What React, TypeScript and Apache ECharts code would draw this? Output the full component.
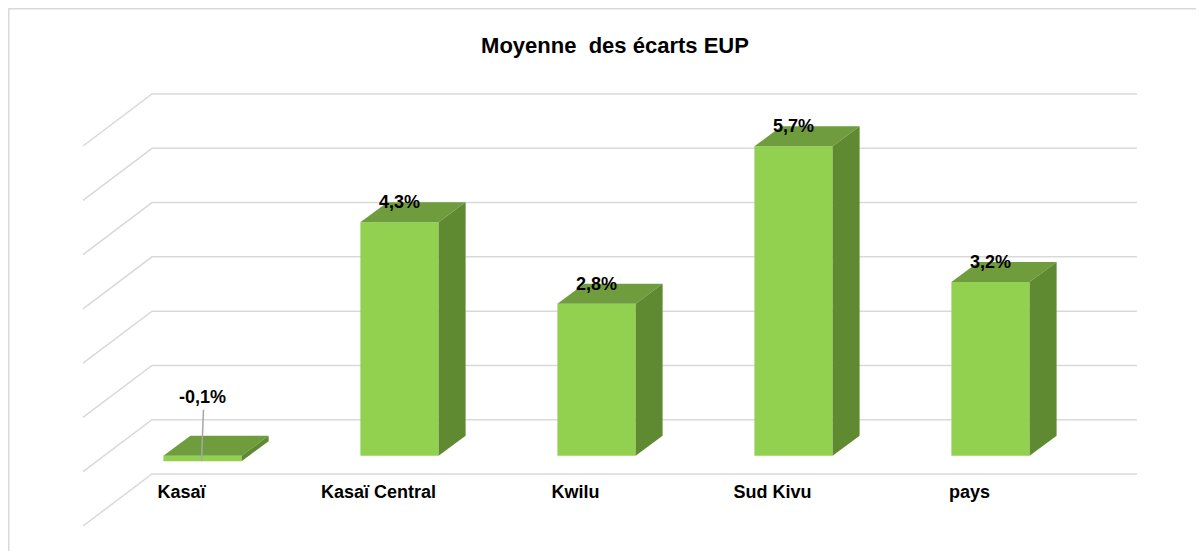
import React, { useEffect, useRef } from "react";
import * as echarts from "echarts";

const categories = ["Kasaï", "Kasaï Central", "Kwilu", "Sud Kivu", "pays"];
const values = [-0.1, 4.3, 2.8, 5.7, 3.2];
const yTicks = [-1, 0, 1, 2, 3, 4, 5, 6];
const titleText = "Moyenne  des écarts EUP";

const FONT = '"Liberation Sans", Arial, sans-serif';
const FRONT = "#92d050";
const TOP = "#6f9d3d";
const SIDE = "#5f8a31";
const GRID = "#d9d9d9";

// 3D projection offsets (pixels)
const FLOOR_DX = -69;
const FLOOR_DY = 52;
const FRONT_DX = -48;
const FRONT_DY = 36;
const DEPTH_DX = 27;
const DEPTH_DY = 20;

const fmt = (v: number) => v.toFixed(1).replace(".", ",") + "%";

export default function App() {
  const ref = useRef<HTMLDivElement>(null);
  useEffect(() => {
    document.documentElement.style.overflow = "hidden";
    const chart = echarts.init(ref.current!, null, { renderer: "svg" });
    chart.setOption({
      animation: false,
      title: {
        text: titleText,
        left: 602,
        top: 21,
        textAlign: "center",
        textStyle: { fontFamily: FONT, fontWeight: "bold", fontSize: 22, color: "#000" },
      },
      graphic: [
        {
          type: "rect",
          shape: { x: 0.75, y: 0.75, width: 1400, height: 1000 },
          style: { fill: "none", stroke: GRID, lineWidth: 1.5 },
          silent: true,
        },
      ],
      grid: { left: 144, top: 86, width: 985, height: 380 },
      xAxis: { type: "category", data: categories, show: false },
      yAxis: { type: "value", min: -1, max: 6, interval: 1, show: false },
      series: [
        {
          type: "custom",
          data: yTicks.map((v) => [0, v]),
          encode: { x: 0, y: 1 },
          renderItem: (params: any, api: any) => {
            const cs = params.coordSys;
            const y = api.coord([0, api.value(1)])[1];
            return {
              type: "polyline",
              shape: {
                points: [
                  [cs.x + FLOOR_DX, y + FLOOR_DY],
                  [cs.x, y],
                  [cs.x + cs.width, y],
                ],
              },
              style: { stroke: GRID, lineWidth: 1.5, fill: "none" },
            };
          },
          z: 1,
        },
        {
          type: "custom",
          data: values.map((v, i) => [i, v]),
          encode: { x: 0, y: 1 },
          renderItem: (params: any, api: any) => {
            const i = api.value(0);
            const v = api.value(1);
            const [cx, yv] = api.coord([i, v]);
            const y0 = api.coord([i, 0])[1];
            const yMin = api.coord([i, -1])[1];
            const bandW = api.size([1, 0])[0];
            const w = bandW * 0.397;
            const fx = cx + FRONT_DX - w / 2;
            const fTop = Math.min(yv, y0) + FRONT_DY;
            const fBot = Math.max(yv, y0) + FRONT_DY;
            const mid = fx + w / 2;
            const children: any[] = [
              {
                type: "rect",
                shape: { x: fx, y: fTop, width: w, height: fBot - fTop },
                style: { fill: FRONT },
              },
              {
                type: "polygon",
                shape: {
                  points: [
                    [fx, fTop],
                    [fx + w, fTop],
                    [fx + w + DEPTH_DX, fTop - DEPTH_DY],
                    [fx + DEPTH_DX, fTop - DEPTH_DY],
                  ],
                },
                style: { fill: TOP },
              },
              {
                type: "polygon",
                shape: {
                  points: [
                    [fx + w, fTop],
                    [fx + w + DEPTH_DX, fTop - DEPTH_DY],
                    [fx + w + DEPTH_DX, fBot - DEPTH_DY],
                    [fx + w, fBot],
                  ],
                },
                style: { fill: SIDE },
              },
            ];
            if (v < 0) {
              children.push({
                type: "line",
                shape: { x1: mid + 1, y1: fTop - 46, x2: mid - 1, y2: fBot },
                style: { stroke: "#a6a6a6", lineWidth: 1.5 },
              });
              children.push({
                type: "text",
                style: {
                  text: fmt(v),
                  x: mid,
                  y: fTop - 59,
                  align: "center",
                  verticalAlign: "middle",
                  font: `bold 18px ${FONT}`,
                  fill: "#000",
                },
              });
            } else {
              children.push({
                type: "text",
                style: {
                  text: fmt(v),
                  x: mid,
                  y: fTop - 20,
                  align: "center",
                  verticalAlign: "middle",
                  font: `bold 18px ${FONT}`,
                  fill: "#000",
                },
              });
            }
            children.push({
              type: "text",
              style: {
                text: categories[i],
                x: cx + FLOOR_DX,
                y: yMin + 18,
                align: "center",
                verticalAlign: "middle",
                font: `bold 18px ${FONT}`,
                fill: "#000",
              },
            });
            return { type: "group", children };
          },
          z: 2,
        },
      ],
    });
    return () => chart.dispose();
  }, []);
  return <div ref={ref} style={{ width: 1196, height: 543 }} />;
}
